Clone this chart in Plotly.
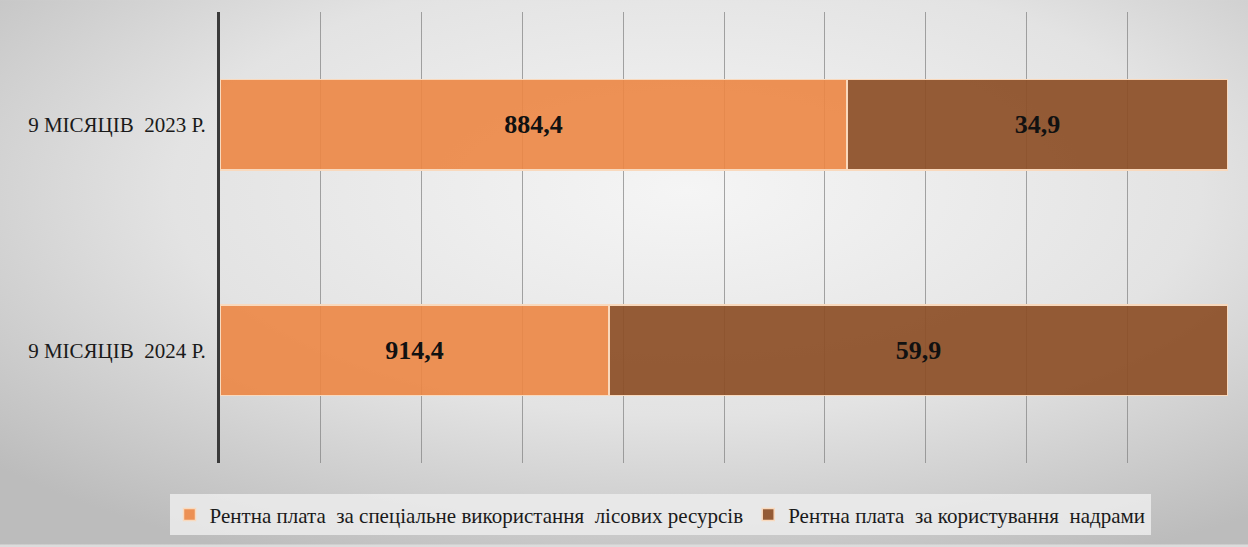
import base64

import plotly.graph_objects as go

# categories (top to bottom) and bar shares
categories = ['9 МІСЯЦІВ\u00a0 2023 Р.', '9 МІСЯЦІВ\u00a0 2024 Р.']
forest_share = [62.2, 38.6]
subsoil_share = [37.8, 61.4]

# values printed on the bars
forest_labels = ['884,4', '914,4']
subsoil_labels = ['34,9', '59,9']

series_names = [
    'Рентна плата\u00a0 за спеціальне використання\u00a0 лісових ресурсів',
    'Рентна плата\u00a0 за користування\u00a0 надрами',
]

SERIF = 'Times New Roman, Liberation Serif, serif'

W, H = 1248, 547
L, R, T, B = 220, 20, 12, 82
PW, PH = W - L - R, H - T - B

# soft radial gradient behind the whole chart
svg = (
    f'<svg xmlns="http://www.w3.org/2000/svg" width="{W}" height="{H}">'
    '<defs><radialGradient id="g" cx="55%" cy="35%" r="75%">'
    '<stop offset="0" stop-color="#f5f5f5"/>'
    '<stop offset="0.55" stop-color="#e3e3e3"/>'
    '<stop offset="1" stop-color="#bcbcbc"/>'
    '</radialGradient></defs>'
    f'<rect width="{W}" height="{H}" fill="url(#g)"/></svg>'
)
bg_src = 'data:image/svg+xml;base64,' + base64.b64encode(svg.encode()).decode()

label_font = dict(family=SERIF, size=26, color='#111111', weight='bold')

fig = go.Figure()

fig.add_trace(
    go.Bar(
        y=categories,
        x=forest_share,
        orientation='h',
        name=series_names[0],
        text=forest_labels,
        textposition='inside',
        insidetextanchor='middle',
        textfont=label_font,
        marker=dict(color='rgba(236,134,68,0.9)',
                    line=dict(color='#f9d9bd', width=1.5)),
        hoverinfo='skip',
    )
)

fig.add_trace(
    go.Bar(
        y=categories,
        x=subsoil_share,
        orientation='h',
        name=series_names[1],
        text=subsoil_labels,
        textposition='inside',
        insidetextanchor='middle',
        textfont=label_font,
        marker=dict(color='rgba(140,78,38,0.92)',
                    line=dict(color='#f9d9bd', width=1.5)),
        hoverinfo='skip',
    )
)

fig.update_layout(
    width=W,
    height=H,
    barmode='stack',
    bargap=0.6,
    margin=dict(l=L, r=R, t=T, b=B),
    paper_bgcolor='#dcdcdc',
    plot_bgcolor='rgba(0,0,0,0)',
    font=dict(family=SERIF, color='#1a1a1a'),
    images=[dict(
        source=bg_src,
        xref='paper', yref='paper',
        x=-L / PW, y=1 + T / PH,
        sizex=W / PW, sizey=H / PH,
        xanchor='left', yanchor='top',
        sizing='stretch', layer='below',
    )],
    xaxis=dict(
        range=[0, 100],
        dtick=10,
        showticklabels=False,
        showgrid=True,
        gridcolor='rgba(128,128,128,0.7)',
        gridwidth=1,
        zeroline=False,
        showline=False,
        fixedrange=True,
    ),
    yaxis=dict(
        autorange='reversed',
        showline=True,
        linecolor='#3a3a3a',
        linewidth=3,
        showgrid=False,
        ticks='',
        ticklabelstandoff=7,
        tickfont=dict(family=SERIF, size=21, color='#1a1a1a'),
        fixedrange=True,
    ),
    legend=dict(
        orientation='h',
        x=(660 - L) / PW,
        xanchor='center',
        y=-0.115,
        yanchor='middle',
        bgcolor='rgba(236,236,236,0.85)',
        font=dict(family=SERIF, size=21, color='#1a1a1a'),
        itemwidth=30,
        tracegroupgap=0,
        traceorder='normal',
    ),
    showlegend=True,
)

fig.write_html(
    'out.html',
    config={'displayModeBar': False},
    post_script="document.body.style.margin='0';",
)
